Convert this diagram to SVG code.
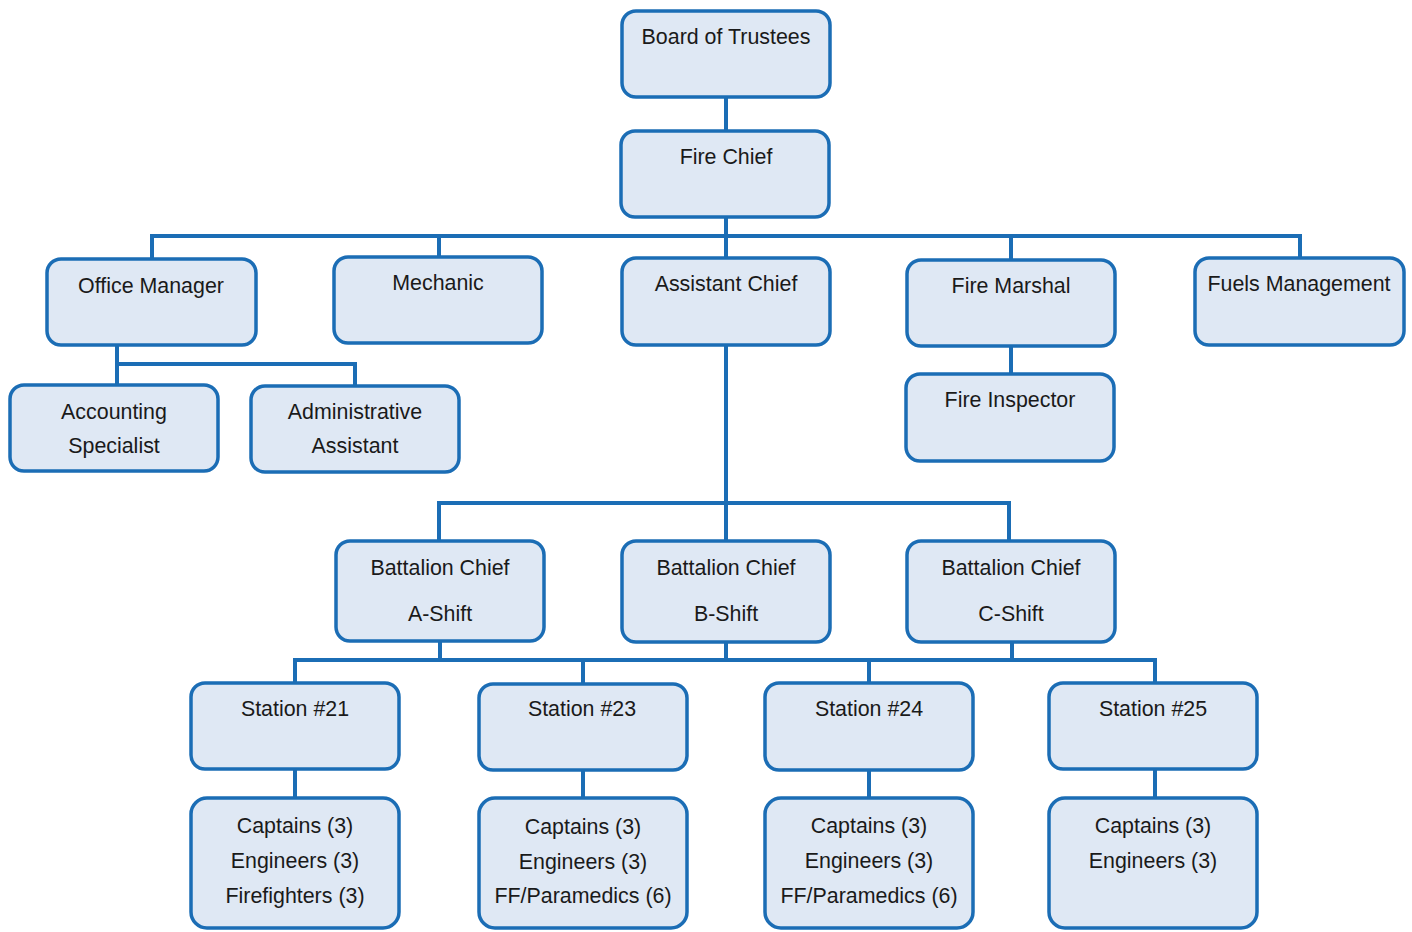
<svg xmlns="http://www.w3.org/2000/svg" width="1412" height="932" viewBox="0 0 1412 932">
<style>
.box{fill:#dfe8f4;stroke:#1b6db5;stroke-width:3.5}
.lbl{font-family:"Liberation Sans",Arial,sans-serif;font-size:21.4px;fill:#1a1a1a;text-anchor:middle}
.con{fill:none;stroke:#1b6db5;stroke-width:4}
</style>
<rect width="1412" height="932" fill="#ffffff"/>
<g id="connectors">
<path class="con" d="M726 98V130"/>
<path class="con" d="M726 218V257"/>
<path class="con" d="M152 258V236H1300V257"/>
<path class="con" d="M439 236V256"/>
<path class="con" d="M1011 236V259"/>
<path class="con" d="M117 346V384"/>
<path class="con" d="M117 364H355V385"/>
<path class="con" d="M1011 347V373"/>
<path class="con" d="M726 346V540"/>
<path class="con" d="M439 540V503H1009V540"/>
<path class="con" d="M440 642V660"/>
<path class="con" d="M726 643V660"/>
<path class="con" d="M1012 643V660"/>
<path class="con" d="M295 682V660H1155V682"/>
<path class="con" d="M583 660V683"/>
<path class="con" d="M869 660V682"/>
<path class="con" d="M295 770V797"/>
<path class="con" d="M583 771V797"/>
<path class="con" d="M869 771V797"/>
<path class="con" d="M1155 770V797"/>
</g>
<g id="board">
<rect class="box" x="622" y="11" width="208" height="86" rx="14"/>
<text class="lbl" x="726" y="44">Board of Trustees</text>
</g>
<g id="fire-chief">
<rect class="box" x="621" y="131" width="208" height="86" rx="14"/>
<text class="lbl" x="726" y="164">Fire Chief</text>
</g>
<g id="office-manager">
<rect class="box" x="47" y="259" width="209" height="86" rx="14"/>
<text class="lbl" x="151" y="293">Office Manager</text>
</g>
<g id="mechanic">
<rect class="box" x="334" y="257" width="208" height="86" rx="14"/>
<text class="lbl" x="438" y="290">Mechanic</text>
</g>
<g id="assistant-chief">
<rect class="box" x="622" y="258" width="208" height="87" rx="14"/>
<text class="lbl" x="726" y="291">Assistant Chief</text>
</g>
<g id="fire-marshal">
<rect class="box" x="907" y="260" width="208" height="86" rx="14"/>
<text class="lbl" x="1011" y="293">Fire Marshal</text>
</g>
<g id="fuels-management">
<rect class="box" x="1195" y="258" width="209" height="87" rx="14"/>
<text class="lbl" x="1299" y="291">Fuels Management</text>
</g>
<g id="accounting-specialist">
<rect class="box" x="10" y="385" width="208" height="86" rx="14"/>
<text class="lbl" x="114" y="419">Accounting</text>
<text class="lbl" x="114" y="453">Specialist</text>
</g>
<g id="administrative-assistant">
<rect class="box" x="251" y="386" width="208" height="86" rx="14"/>
<text class="lbl" x="355" y="419">Administrative</text>
<text class="lbl" x="355" y="453">Assistant</text>
</g>
<g id="fire-inspector">
<rect class="box" x="906" y="374" width="208" height="87" rx="14"/>
<text class="lbl" x="1010" y="407">Fire Inspector</text>
</g>
<g id="battalion-a">
<rect class="box" x="336" y="541" width="208" height="100" rx="14"/>
<text class="lbl" x="440" y="575">Battalion Chief</text>
<text class="lbl" x="440" y="621">A-Shift</text>
</g>
<g id="battalion-b">
<rect class="box" x="622" y="541" width="208" height="101" rx="14"/>
<text class="lbl" x="726" y="575">Battalion Chief</text>
<text class="lbl" x="726" y="621">B-Shift</text>
</g>
<g id="battalion-c">
<rect class="box" x="907" y="541" width="208" height="101" rx="14"/>
<text class="lbl" x="1011" y="575">Battalion Chief</text>
<text class="lbl" x="1011" y="621">C-Shift</text>
</g>
<g id="station-21">
<rect class="box" x="191" y="683" width="208" height="86" rx="14"/>
<text class="lbl" x="295" y="716">Station #21</text>
</g>
<g id="station-23">
<rect class="box" x="479" y="684" width="208" height="86" rx="14"/>
<text class="lbl" x="582" y="716">Station #23</text>
</g>
<g id="station-24">
<rect class="box" x="765" y="683" width="208" height="87" rx="14"/>
<text class="lbl" x="869" y="716">Station #24</text>
</g>
<g id="station-25">
<rect class="box" x="1049" y="683" width="208" height="86" rx="14"/>
<text class="lbl" x="1153" y="716">Station #25</text>
</g>
<g id="crew-21">
<rect class="box" x="191" y="798" width="208" height="130" rx="16"/>
<text class="lbl" x="295" y="833">Captains (3)</text>
<text class="lbl" x="295" y="868">Engineers (3)</text>
<text class="lbl" x="295" y="903">Firefighters (3)</text>
</g>
<g id="crew-23">
<rect class="box" x="479" y="798" width="208" height="130" rx="16"/>
<text class="lbl" x="583" y="834">Captains (3)</text>
<text class="lbl" x="583" y="869">Engineers (3)</text>
<text class="lbl" x="583" y="903">FF/Paramedics (6)</text>
</g>
<g id="crew-24">
<rect class="box" x="765" y="798" width="208" height="130" rx="16"/>
<text class="lbl" x="869" y="833">Captains (3)</text>
<text class="lbl" x="869" y="868">Engineers (3)</text>
<text class="lbl" x="869" y="903">FF/Paramedics (6)</text>
</g>
<g id="crew-25">
<rect class="box" x="1049" y="798" width="208" height="130" rx="16"/>
<text class="lbl" x="1153" y="833">Captains (3)</text>
<text class="lbl" x="1153" y="868">Engineers (3)</text>
</g>
</svg>
